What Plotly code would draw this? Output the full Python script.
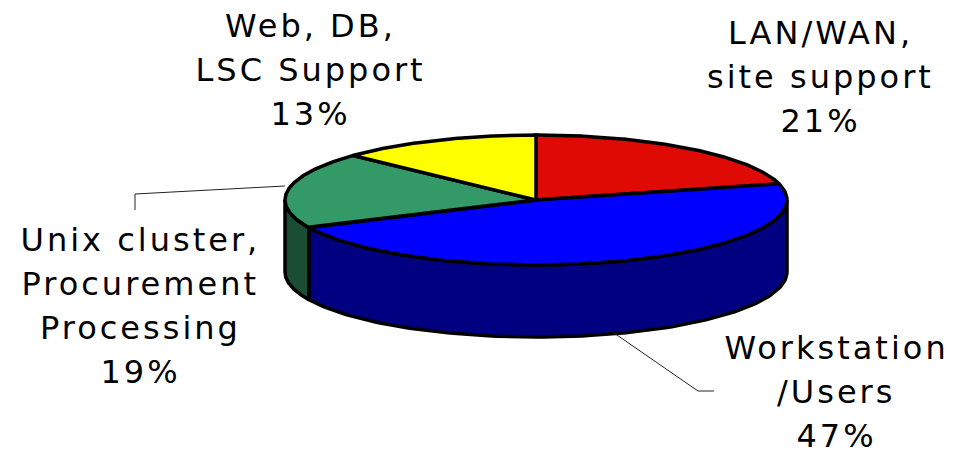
import numpy as np
import plotly.graph_objects as go

# Slices clockwise from 12 o'clock
categories = ["LAN/WAN,<br>site support", "Workstation<br>/Users", "Unix cluster,<br>Procurement<br>Processing", "Web, DB,<br>LSC Support"]
values = [21, 47, 19, 13]
top_colors = ["#e00a05", "#0000ff", "#339966", "#ffff00"]
wall_colors = ["#700503", "#000080", "#1b4d33", "#808000"]

W, H = 953, 449
PAGE_MARGIN = 8
CX, CY, RX, RY, DEPTH = 536, 200, 251, 65, 72
FONT = "DejaVu Sans"
FS = 32
LINE = 44
label_pos = [(820, 33), (836, 348), (140, 240), (310, 26)]
leaders = [None, ([614, 698, 714], [333, 391, 391]), ([285, 135, 135], [186, 194, 210]), None]


def ell(t):
    return CX + RX * np.sin(t), CY - RY * np.cos(t)


fracs = np.array(values) / sum(values)
edges = np.concatenate([[0], np.cumsum(fracs)]) * 2 * np.pi
fig = go.Figure()


def poly(xs, ys, color):
    fig.add_trace(go.Scatter(x=xs, y=ys, mode="lines", fill="toself", fillcolor=color,
                             line=dict(color="black", width=3.5), hoverinfo="skip", showlegend=False))


# Side walls: the front half of the rim only (angles 90..270 deg)
for i in range(len(values)):
    a, b = max(edges[i], np.pi / 2), min(edges[i + 1], 3 * np.pi / 2)
    if b > a:
        t = np.linspace(a, b, 120)
        x, y = ell(t)
        poly(np.r_[x, x[::-1], x[0]], np.r_[y, y[::-1] + DEPTH, y[0]], wall_colors[i])

# Top faces
for i in range(len(values)):
    t = np.linspace(edges[i], edges[i + 1], 160)
    x, y = ell(t)
    poly(np.r_[CX, x, CX], np.r_[CY, y, CY], top_colors[i])

# Leader lines
for ld in leaders:
    if ld:
        fig.add_trace(go.Scatter(x=ld[0], y=ld[1], mode="lines", line=dict(color="#222222", width=1),
                                 hoverinfo="skip", showlegend=False))

# Labels, one annotation per line to keep the wide line pitch
for cat, v, (lx, ly) in zip(categories, values, label_pos):
    lines = cat.split("<br>") + [f"{v}%"]
    for j, s in enumerate(lines):
        fig.add_annotation(x=lx, y=ly + j * LINE, text=s, showarrow=False, xanchor="center", yanchor="middle",
                           font=dict(family=FONT, size=FS, color="black"))

fig.update_layout(width=W - PAGE_MARGIN, height=H - PAGE_MARGIN, margin=dict(l=0, r=0, t=0, b=0),
                  paper_bgcolor="white", plot_bgcolor="white",
                  xaxis=dict(range=[PAGE_MARGIN, W], visible=False, fixedrange=True),
                  yaxis=dict(range=[H, PAGE_MARGIN], visible=False, fixedrange=True), showlegend=False)
fig.write_html("out.html", config={"displayModeBar": False},
               post_script="document.querySelectorAll('.annotation-text').forEach(function(e){e.style.letterSpacing='3px';});")
